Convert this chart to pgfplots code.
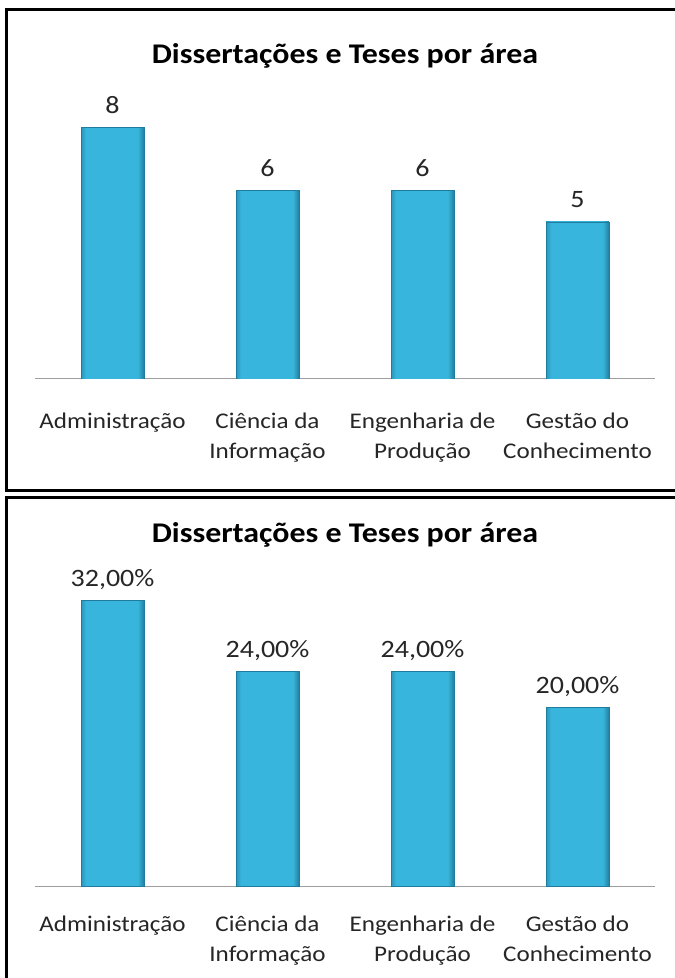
\documentclass[border=0pt]{standalone}
\usepackage{fontspec}
\setmainfont[FakeStretch=1.12]{Carlito}
\usepackage{pgfplots}
\pgfplotsset{compat=1.18}
\definecolor{barL}{HTML}{2A95BB}
\definecolor{barM}{HTML}{38B5DD}
\definecolor{barR}{HTML}{21809F}
\definecolor{barE}{HTML}{1F7C9E}
\definecolor{lbl}{HTML}{262626}
\pgfdeclarehorizontalshading{barshade}{100bp}{color(0bp)=(barL); color(25bp)=(barL); color(29bp)=(barM); color(70bp)=(barM); color(75bp)=(barR); color(100bp)=(barR)}
\pgfplotsset{
  mybars/.style={
    scale only axis, width=620pt,
    xmin=-0.5, xmax=3.5, ymin=0, enlargelimits=false,
    axis x line*=bottom, axis y line=none,
    x axis line style={draw=black!38, line width=1pt, -},
    xtick={0,1,2,3}, major tick length=0pt, ymajorticks=false,
    xticklabels={Administração,{Ciência da\\Informação},{Engenharia de\\Produção},{Gestão do\\Conhecimento}},
    xticklabel style={anchor=north, align=center, inner sep=0pt, yshift=-34pt,
      font=\fontsize{22.4}{30}\selectfont, text=lbl},
    nodes near coords style={anchor=base, inner sep=0pt, yshift=14pt,
      font=\fontsize{25}{28}\selectfont, text=lbl},
    point meta=explicit symbolic, nodes near coords,
  },
  barstyle/.style={ybar, bar width=63pt, bar shift=0pt, draw=barE, line width=0.6pt,
    shading=barshade},
}
\begin{document}
\begin{tikzpicture}
\useasboundingbox (0pt,0pt) rectangle (675pt,978pt);
\fill[white] (0pt,0pt) rectangle (675pt,978pt);
\draw[line width=3pt] (6pt,487pt) rectangle (720pt,968pt);
\draw[line width=3pt] (6pt,-30pt) rectangle (720pt,480pt);
\node[font=\fontsize{28.5}{32}\selectfont\bfseries] at (345pt,922pt) {Dissertações e Teses por área};
\node[font=\fontsize{28.5}{32}\selectfont\bfseries] at (345pt,443pt) {Dissertações e Teses por área};
\begin{axis}[mybars, at={(35pt,599pt)}, anchor=south west, height=314pt, ymax=10]
\addplot[barstyle] coordinates {(0,8) [8]};
\addplot[barstyle] coordinates {(1,6) [6]};
\addplot[barstyle] coordinates {(2,6) [6]};
\addplot[barstyle] coordinates {(3,5) [5]};
\end{axis}
\begin{axis}[mybars, at={(35pt,92pt)}, anchor=south west, height=312.5pt, ymax=35,
  xticklabel style={yshift=4pt}]
\addplot[barstyle] coordinates {(0,32) [32,00\%]};
\addplot[barstyle] coordinates {(1,24) [24,00\%]};
\addplot[barstyle] coordinates {(2,24) [24,00\%]};
\addplot[barstyle] coordinates {(3,20) [20,00\%]};
\end{axis}
\end{tikzpicture}
\end{document}
